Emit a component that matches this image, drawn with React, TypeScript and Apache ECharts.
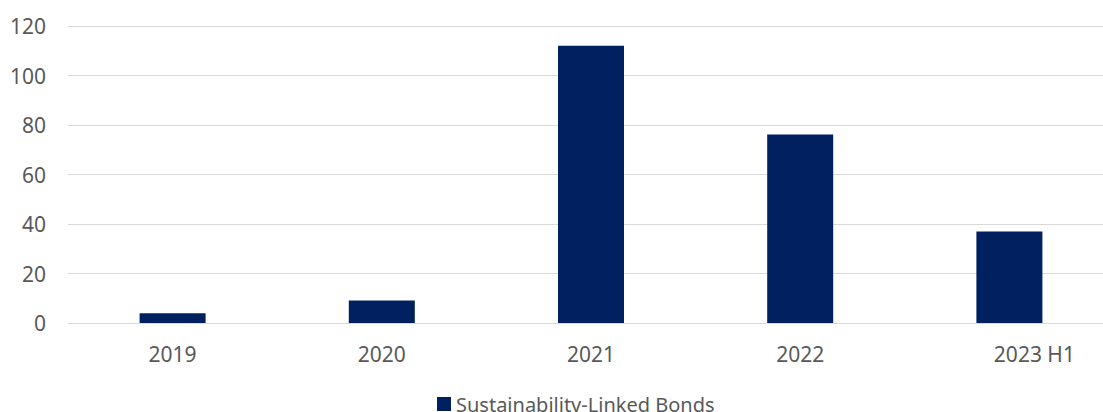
import React, { useEffect, useRef } from "react";
import * as echarts from "echarts";

const categories = ["2019", "2020", "2021", "2022", "2023 H1"];
const seriesName = "Sustainability-Linked Bonds";
const values = [3.9, 9.1, 112, 76.2, 37];
const yTicks = { min: 0, max: 120, interval: 20 };

export default function App() {
  const ref = useRef<HTMLDivElement>(null);
  useEffect(() => {
    document.body.style.margin = "0";
    const chart = echarts.init(ref.current!, null, { renderer: "svg" });
    chart.setOption({
      animation: false,
      textStyle: { fontFamily: "Noto Sans" },
      grid: { left: 68, top: 26, right: 6, height: 297, containLabel: false },
      legend: {
        data: [seriesName],
        left: 432,
        top: 389,
        icon: "rect",
        itemWidth: 14,
        itemHeight: 14,
        textStyle: { fontSize: 20, color: "#595959", fontFamily: "Noto Sans" },
      },
      xAxis: {
        type: "category",
        data: categories.map((c, i) =>
          i === categories.length - 1
            ? { value: c, textStyle: { padding: [0, 0, 0, 50] } }
            : c
        ),
        axisLine: { show: true, lineStyle: { color: "#d9d9d9", width: 1 } },
        axisTick: { show: false },
        axisLabel: { fontSize: 21, color: "#595959", margin: 20, fontFamily: "Noto Sans" },
      },
      yAxis: {
        type: "value",
        min: yTicks.min,
        max: yTicks.max,
        interval: yTicks.interval,
        axisLine: { show: false },
        axisTick: { show: false },
        splitLine: { lineStyle: { color: "#d9d9d9", width: 1 } },
        axisLabel: { fontSize: 21, color: "#595959", margin: 22, fontFamily: "Noto Sans" },
      },
      series: [
        {
          name: seriesName,
          type: "bar",
          data: values,
          barWidth: 66,
          itemStyle: { color: "#002060" },
        },
      ],
    });
    return () => chart.dispose();
  }, []);
  return (
    <div style={{ width: 1103, height: 412, overflow: "hidden", position: "relative" }}>
      <div ref={ref} style={{ width: 1120, height: 412 }} />
    </div>
  );
}
